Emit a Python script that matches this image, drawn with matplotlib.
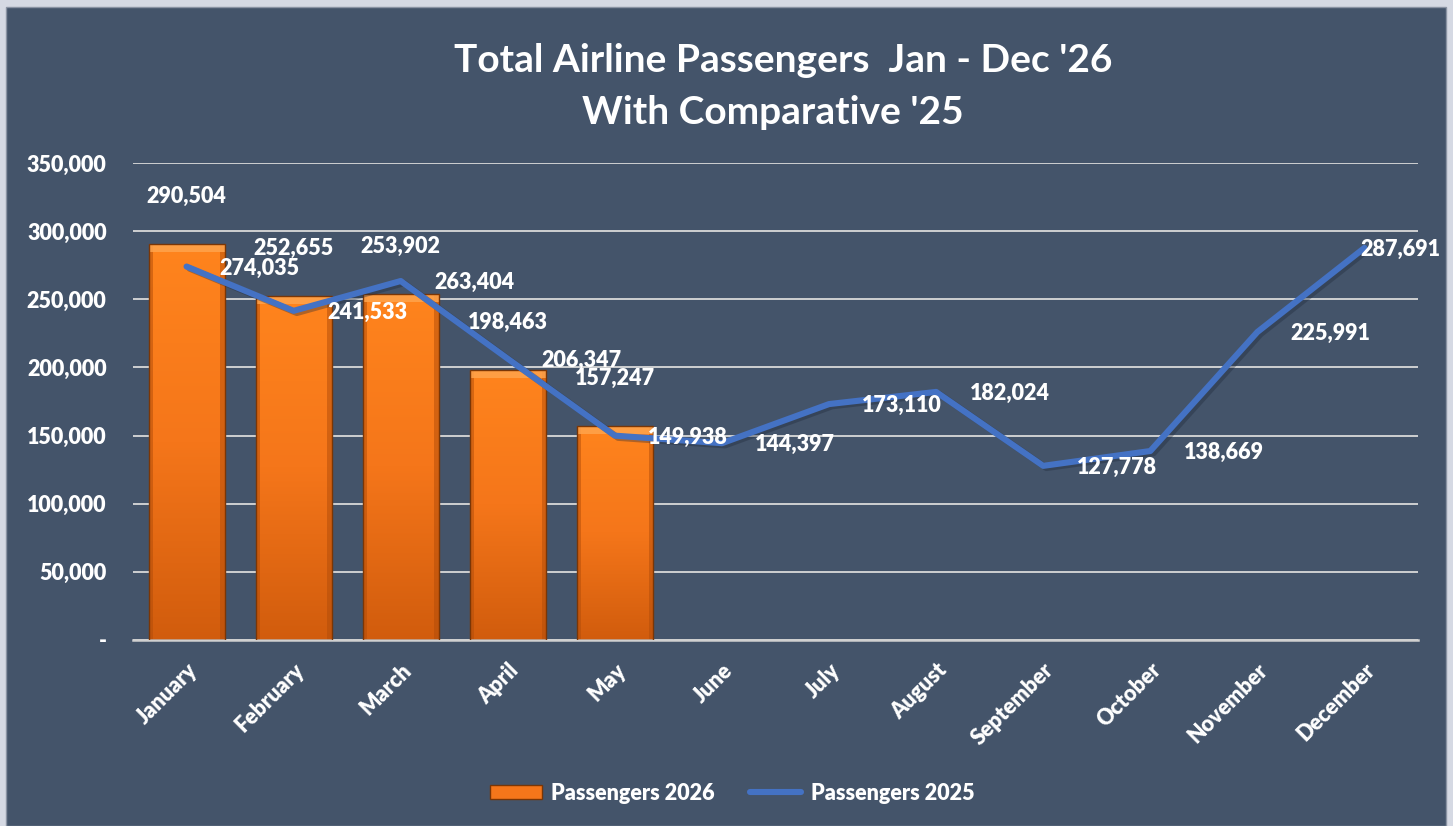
import numpy as np
import matplotlib.pyplot as plt
from matplotlib.patches import Rectangle, Patch
from matplotlib.lines import Line2D
from matplotlib.colors import LinearSegmentedColormap
from matplotlib.ticker import FuncFormatter

# Data
months = ['January', 'February', 'March', 'April', 'May', 'June',
          'July', 'August', 'September', 'October', 'November', 'December']
pax_2026 = [290504, 252655, 253902, 198463, 157247]
pax_2025 = [274035, 241533, 263404, 206347, 149938, 144397,
            173110, 182024, 127778, 138669, 225991, 287691]
y_ticks = [0, 50000, 100000, 150000, 200000, 250000, 300000, 350000]

panel = '#44546A'
font = 'Lato'
plt.rcParams['font.family'] = [font, 'DejaVu Sans']
plt.rcParams['font.weight'] = 'bold'
fs = 15.5
fw = 'heavy'

fig = plt.figure(figsize=(14.53, 8.26), dpi=100)
fig.patch.set_facecolor('#D5D9E3')
fig.patches.append(Rectangle((6 / 1453, 0), 1440 / 1453, 819 / 826,
                             transform=fig.transFigure, facecolor=panel,
                             edgecolor='#8A93A3', linewidth=1, zorder=-5))

ax = fig.add_axes([133 / 1453, 1 - 640 / 826, 1285 / 1453, 477 / 826])
ax.set_facecolor(panel)
ax.patch.set_alpha(0)

x = np.arange(len(months))
xb = np.arange(len(pax_2026))
bw = 0.71

# bars with vertical orange gradient
cmap = LinearSegmentedColormap.from_list('org', ['#D15C0D', '#F5761A', '#FF841D'])
bars = ax.bar(xb, pax_2026, width=bw, color='none', edgecolor='#7A3606',
              linewidth=1.0, zorder=3)
grad = np.linspace(0, 1, 256).reshape(-1, 1)
for b in bars:
    x0, y0 = b.get_x(), b.get_y()
    w, h = b.get_width(), b.get_height()
    im = ax.imshow(grad, cmap=cmap, aspect='auto', origin='lower',
                   extent=[x0, x0 + w, y0, y0 + h], zorder=2)
    im.set_clip_path(b)
    # darker side edges
    for sx in (x0, x0 + w - 0.04):
        ax.add_patch(Rectangle((sx, y0), 0.04, h, facecolor='#B04C0A',
                               edgecolor='none', alpha=0.5, zorder=2.4))
    # top bevel highlight
    ax.add_patch(Rectangle((x0, y0 + h - 6000), w, 6000, facecolor='#FFA44C',
                           edgecolor='none', alpha=0.85, zorder=2.5))

for xi, v in zip(xb, pax_2026):
    ax.annotate(f'{v:,}', (xi, v), xytext=(0, 34), textcoords='offset points',
                ha='center', va='center', color='white', fontsize=fs,
                fontweight=fw, zorder=6)

# 2025 line
ax.plot(x + 0.03, np.array(pax_2025) - 1500, color='#1E2838', linewidth=4.6,
        alpha=0.35, solid_capstyle='round', solid_joinstyle='round', zorder=3.5)
ax.plot(x, pax_2025, color='#4472C4', linewidth=4.4,
        solid_capstyle='round', solid_joinstyle='round', zorder=4)
for i, (xi, v) in enumerate(zip(x, pax_2025)):
    dx = -3 if i == len(x) - 1 else 24
    ax.annotate(f'{v:,}', (xi, v), xytext=(dx, -1), textcoords='offset points',
                ha='left', va='center', color='white', fontsize=fs,
                fontweight=fw, zorder=6)

ax.set_xlim(-0.5, len(months) - 0.5)
ax.set_ylim(0, 350000)
ax.set_yticks(y_ticks)
ax.yaxis.set_major_formatter(FuncFormatter(lambda v, p: '-' if v == 0 else f'{int(v):,}'))
ax.grid(axis='y', color='#D9D9D9', linewidth=1.3, zorder=1)
ax.set_axisbelow(True)
for s in ['top', 'right', 'left']:
    ax.spines[s].set_visible(False)
ax.spines['bottom'].set_color('#D0D0D0')
ax.spines['bottom'].set_linewidth(1.8)
ax.tick_params(axis='both', length=0, colors='white', labelsize=fs)
ax.tick_params(axis='y', pad=19)
ax.set_xticks(x)
ax.set_xticklabels(months, rotation=45, ha='right', rotation_mode='anchor')
ax.tick_params(axis='x', pad=14)
for lbl in ax.get_xticklabels() + ax.get_yticklabels():
    lbl.set_fontweight(fw)

fig.text(0.539, 1 - 60 / 826, "Total Airline Passengers  Jan - Dec '26",
         ha='center', va='center', color='white', fontsize=28, fontweight='bold')
fig.text(0.532, 1 - 112 / 826, "With Comparative '25",
         ha='center', va='center', color='white', fontsize=28, fontweight='bold')

handles = [Patch(facecolor='#F5761A', edgecolor='#7A3606'),
           Line2D([0], [0], color='#4472C4', linewidth=4.4, solid_capstyle='round')]
leg = fig.legend(handles, ['Passengers 2026', 'Passengers 2025'], loc='center',
                 bbox_to_anchor=(0.504, 1 - 793 / 826), ncol=2, frameon=False,
                 fontsize=fs, handlelength=2.4, handleheight=0.6,
                 columnspacing=1.6, handletextpad=0.45)
for t in leg.get_texts():
    t.set_color('white')
    t.set_fontweight(fw)

fig.savefig('out.png', dpi=100, facecolor=fig.get_facecolor())
